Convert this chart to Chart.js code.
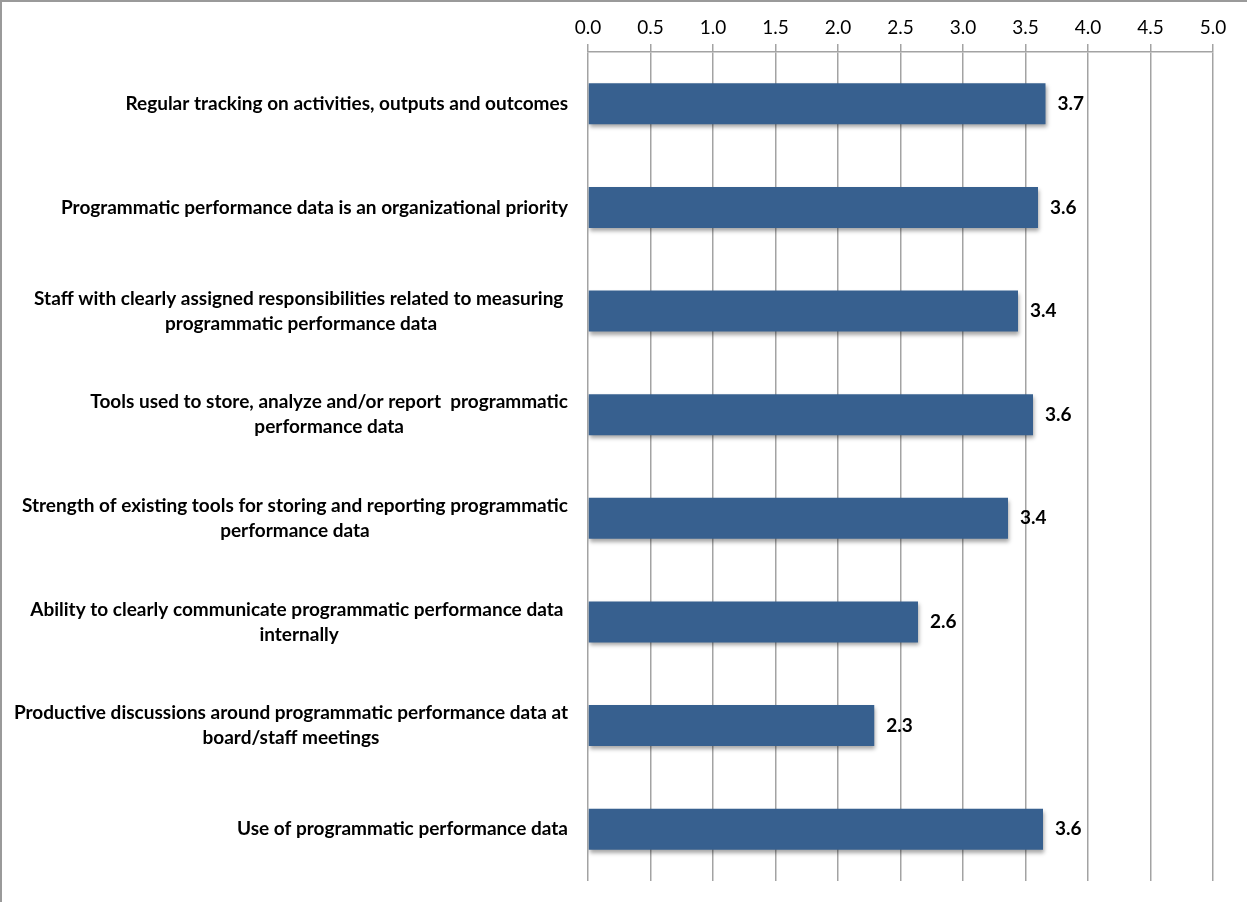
<!DOCTYPE html>
<html>
<head>
<meta charset="utf-8">
<script src="https://cdn.jsdelivr.net/npm/chart.js@4.4.1/dist/chart.umd.min.js"></script>
<style>
  html, body { margin: 0; padding: 0; background: #ffffff; }
  #wrap { position: relative; width: 1247px; height: 902px; overflow: hidden; }
  #frame { position: absolute; left: 0; top: 0; width: 1247px; height: 902px;
           border-top: 2px solid #9a9a9a; border-left: 2px solid #9a9a9a; box-sizing: border-box; pointer-events: none; }
  canvas { display: block; }
</style>
</head>
<body>
<div id="wrap">
  <canvas id="c" width="1247" height="902"></canvas>
  <div id="frame"></div>
</div>
<script>
// ---- data ----
const categories = [
  ["Regular tracking on activities, outputs and outcomes"],
  ["Programmatic performance data is an organizational priority"],
  ["Staff with clearly assigned responsibilities related to measuring ", "programmatic performance data"],
  ["Tools used to store, analyze and/or report  programmatic", "performance data"],
  ["Strength of existing tools for storing and reporting programmatic", "performance data"],
  ["Ability to clearly communicate programmatic performance data ", "internally"],
  ["Productive discussions around programmatic performance data at", "board/staff meetings"],
  ["Use of programmatic performance data"]
];
const values = [3.66, 3.60, 3.44, 3.56, 3.36, 2.64, 2.29, 3.64];
const tickMin = 0;
const tickMax = 5;
const tickStep = 0.5;

// ---- style ----
const FONT = 'Lato, "Open Sans", sans-serif';
const LABEL_SIZE = 19;
const TICK_SIZE = 19;
const BAR_COLOR = '#37608f';
const GRID_COLOR = '#a3a3a3';

const shadowPlugin = {
  id: 'barShadow',
  beforeDatasetDraw(chart) {
    const ctx = chart.ctx;
    ctx.save();
    ctx.shadowColor = 'rgba(0,0,0,0.35)';
    ctx.shadowBlur = 4;
    ctx.shadowOffsetX = 1;
    ctx.shadowOffsetY = 3;
  },
  afterDatasetDraw(chart) {
    chart.ctx.restore();
  }
};

const labelsPlugin = {
  id: 'catLabels',
  afterDraw(chart) {
    const ctx = chart.ctx;
    const yScale = chart.scales.y;
    ctx.save();
    ctx.font = 'bold ' + LABEL_SIZE + 'px ' + FONT;
    ctx.fillStyle = '#000000';
    ctx.textBaseline = 'middle';
    ctx.textAlign = 'center';
    const rightEdge = yScale.right - 20;
    const lineH = 25;
    categories.forEach((lines, i) => {
      const cy = yScale.getPixelForTick(i);
      const w = Math.max(...lines.map(l => ctx.measureText(l).width));
      const cx = rightEdge - w / 2;
      lines.forEach((l, j) => {
        ctx.fillText(l, cx, cy + (j - (lines.length - 1) / 2) * lineH);
      });
    });
    // value labels
    const meta = chart.getDatasetMeta(0);
    ctx.textAlign = 'left';
    meta.data.forEach((bar, i) => {
      ctx.fillText(values[i].toFixed(1), bar.x + 12, bar.y);
    });
    ctx.restore();
  }
};

new Chart(document.getElementById('c'), {
  type: 'bar',
  data: {
    labels: categories,
    datasets: [{
      data: values,
      backgroundColor: BAR_COLOR,
      borderWidth: 0,
      barPercentage: 0.395,
      categoryPercentage: 1.0
    }]
  },
  options: {
    indexAxis: 'y',
    responsive: false,
    animation: false,
    devicePixelRatio: 1,
    layout: { padding: { left: 0, right: 34, top: 0, bottom: 21 } },
    plugins: { legend: { display: false }, tooltip: { enabled: false } },
    scales: {
      x: {
        position: 'top',
        min: tickMin,
        max: tickMax,
        ticks: {
          stepSize: tickStep,
          callback: v => Number(v).toFixed(1),
          font: { family: FONT, size: TICK_SIZE },
          color: '#000000',
          padding: 5,
          maxRotation: 0
        },
        grid: { color: GRID_COLOR, lineWidth: 1.5, tickLength: 8, drawTicks: true },
        border: { display: true, color: GRID_COLOR, width: 1.5 },
        afterFit(scale) { scale.height = 52; }
      },
      y: {
        type: 'category',
        ticks: { display: false },
        grid: { display: false },
        border: { display: false },
        afterFit(scale) { scale.width = 588; }
      }
    }
  },
  plugins: [shadowPlugin, labelsPlugin]
});
</script>
</body>
</html>
